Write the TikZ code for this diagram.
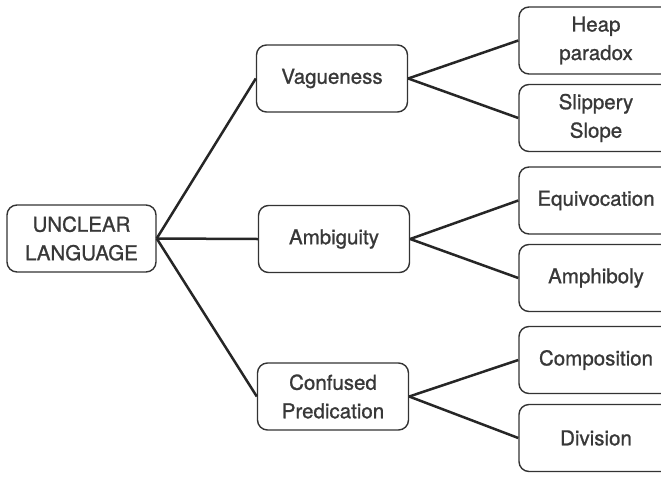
\documentclass[tikz,border=0pt]{standalone}
\usepackage{fontspec}
\newfontfamily\boxfont{TeX Gyre Heros}[FakeBold=1.0]
\begin{document}
\begin{tikzpicture}[x=1pt,y=-1pt,
  box/.style={draw=black!80, line width=1.4pt, rounded corners=10pt, fill=white,
    align=center, inner sep=0pt, text=black!78,
    font=\boxfont\fontsize{20.5}{28.5}\selectfont},
  root/.style={box, minimum width=149pt, minimum height=67pt},
  mid/.style={box, minimum width=151pt, minimum height=67pt},
  leaf/.style={box, minimum width=154pt, minimum height=67pt},
  link/.style={draw=black!85, line width=2.5pt}]
\clip (0,0) rectangle (661,477);
\fill[white] (0,0) rectangle (661,477);

% first level
\node[root] (lang) at (81.5,238.5) {UNCLEAR\\LANGUAGE};

% second level
\node[mid] (vag) at (332,78.5) {Vagueness};
\node[mid] (amb) at (334,239) {Ambiguity};
\node[mid] (conf) at (333,396.5) {Confused\\Predication};

% third level
\node[leaf] (heap) at (596,40.5) {Heap\\paradox};
\node[leaf] (slip) at (596,118) {Slippery\\Slope};
\node[leaf] (equi) at (596,200.5) {Equivocation};
\node[leaf] (amph) at (596,278) {Amphiboly};
\node[leaf] (comp) at (596,360) {Composition};
\node[leaf] (div) at (596,438) {Division};

% connectors
\foreach \t in {vag,amb,conf} \draw[link] (lang.east) -- (\t.west);
\draw[link] (vag.east) -- (heap.west);
\draw[link] (vag.east) -- (slip.west);
\draw[link] (amb.east) -- (equi.west);
\draw[link] (amb.east) -- (amph.west);
\draw[link] (conf.east) -- (comp.west);
\draw[link] (conf.east) -- (div.west);
\end{tikzpicture}
\end{document}
